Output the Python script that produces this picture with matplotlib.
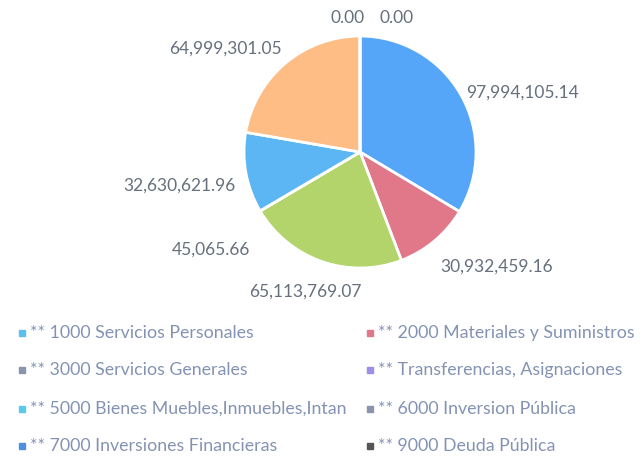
import matplotlib
matplotlib.use('Agg')
import matplotlib.pyplot as plt
import numpy as np

# datos
labels = ['** 1000 Servicios Personales', '** 2000 Materiales y Suministros',
          '** 3000 Servicios Generales', '** Transferencias, Asignaciones',
          '** 5000 Bienes Muebles,Inmuebles,Intan', '** 6000 Inversion Pública',
          '** 7000 Inversiones Financieras', '** 9000 Deuda Pública']
values = [97994105.14, 30932459.16, 65113769.07, 45065.66,
          32630621.96, 64999301.05, 0.00, 0.00]
slice_colors = ['#55a6f8', '#e0788a', '#b2d46a', '#9a8ee8',
                '#5cb6f4', '#fdbd85', '#4f8fe0', '#555555']
legend_colors = ['#5cc0ec', '#e0788a', '#8a94aa', '#9a8ee8',
                 '#5cc8ec', '#8a94aa', '#4f8fe0', '#555555']

plt.rcParams['font.family'] = ['Lato', 'DejaVu Sans']

fig = plt.figure(figsize=(6.44, 4.58), dpi=100)
ax = fig.add_axes([0, 0, 1, 1])

cx, cy, R = 360, 152, 116
# el eje y esta invertido: startangle=-90 queda arriba y el giro se ve horario
wedges, _ = ax.pie(values, colors=slice_colors, startangle=-90, counterclock=True,
                   center=(cx, cy), radius=R, frame=True,
                   wedgeprops=dict(edgecolor='white', linewidth=2))
ax.set_xlim(0, 644)
ax.set_ylim(458, 0)
ax.axis('off')

# posiciones de las etiquetas (ajustadas a mano segun el original)
label_pos = [(466, 93, 'left'), (440, 267, 'left'), (305, 292, 'center'),
             (250, 250, 'right'), (236, 186, 'right'), (282, 49, 'right'),
             (348, 18, 'center'), (397, 18, 'center')]
for v, (x, y, ha) in zip(values, label_pos):
    ax.text(x, y, f'{v:,.2f}', ha=ha, va='center', fontsize=12.5,
            color='#66707c')

# leyenda
rows = [333, 370, 409, 446]
cols = [22, 370]
for i, (lab, col) in enumerate(zip(labels, legend_colors)):
    x = cols[i % 2]
    y = rows[i // 2]
    ax.plot(x, y, marker='s', markersize=4, color=col, linestyle='none')
    ax.text(x + 8, y, lab, ha='left', va='center', fontsize=12.8, color='#8493b3')

fig.savefig('out.png', dpi=100)
